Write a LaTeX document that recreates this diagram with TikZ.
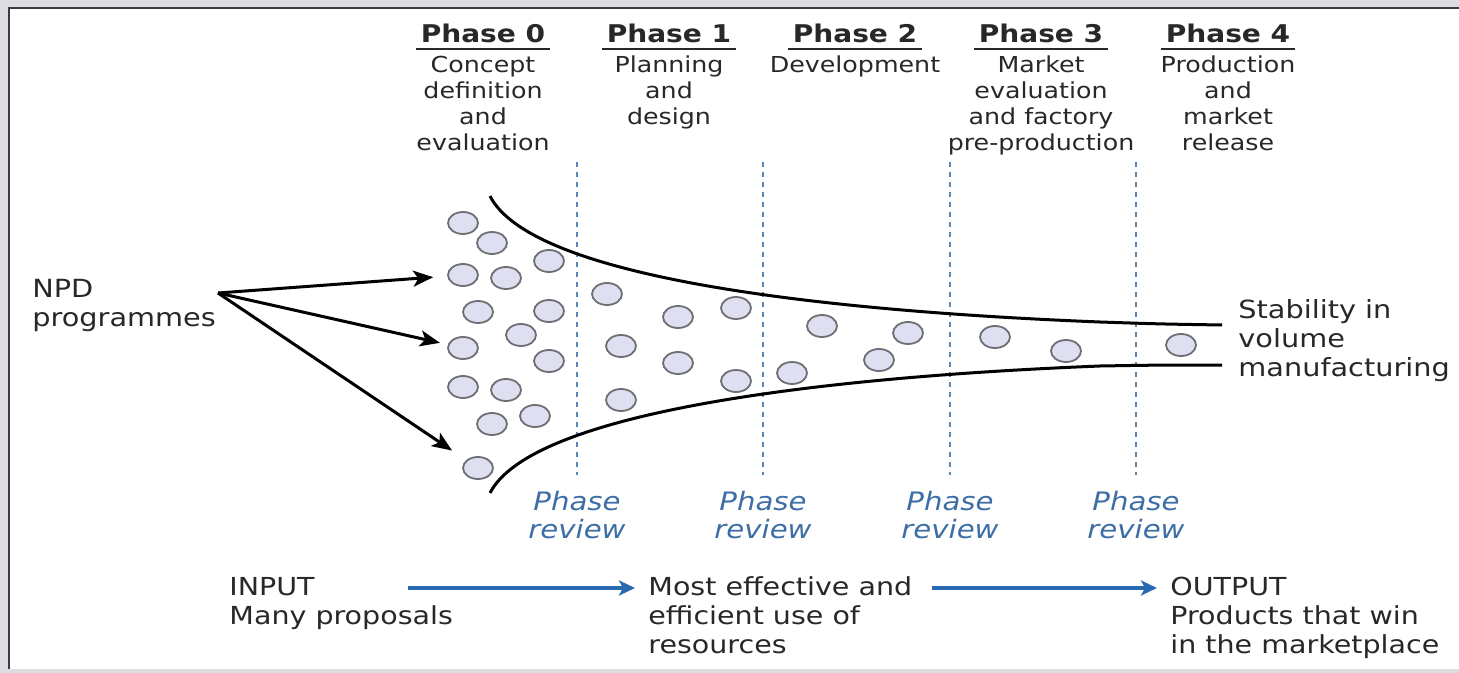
\documentclass[tikz,border=0pt]{standalone}
\usepackage{fontspec}
\setmainfont{DejaVu Sans}[FakeStretch=1.15]
\usetikzlibrary{arrows.meta,shapes.geometric}

\definecolor{panelgray}{RGB}{220,221,224}
\definecolor{framedark}{RGB}{60,60,62}
\definecolor{ink}{RGB}{40,40,40}
\definecolor{reviewblue}{RGB}{61,110,165}
\definecolor{gateblue}{RGB}{90,135,180}
\definecolor{flowblue}{RGB}{40,105,175}
\definecolor{blobfill}{RGB}{222,224,242}
\definecolor{blobline}{RGB}{110,110,115}

\begin{document}
\begin{tikzpicture}[x=0.5pt,y=-0.5pt,
	>={Stealth[length=10pt,width=8pt,inset=2.5pt]},
	every node/.style={text=ink},
	heading/.style={anchor=base,inner sep=0pt,inner xsep=2pt,font=\fontsize{12.2}{13}\selectfont\bfseries},
	headrule/.style={line width=1pt,ink},
	phasetext/.style={anchor=base,align=center,inner sep=0pt,font=\fontsize{11}{13}\selectfont},
	gate/.style={gateblue,line width=1.2pt,dash pattern=on 2.5pt off 2.5pt},
	review/.style={anchor=base,align=center,inner sep=0pt,text=reviewblue,font=\fontsize{12.7}{14}\selectfont\itshape},
	blob/.style={ellipse,draw=blobline,fill=blobfill,line width=0.9pt,minimum width=15pt,minimum height=11pt,inner sep=0pt},
	funnel/.style={line width=1.5pt,black},
	feed/.style={->,line width=1.5pt,black},
	sidetext/.style={anchor=base west,align=left,inner sep=0pt,font=\fontsize{12.5}{14.5}\selectfont},
	flowtext/.style={anchor=base west,align=left,inner sep=0pt,font=\fontsize{12.4}{14.5}\selectfont},
	flow/.style={-{Stealth[length=8pt,width=7.5pt,inset=2pt]},line width=1.8pt,flowblue}]

	\useasboundingbox (0,0) rectangle (1459,673);

	% panel
	\fill[panelgray] (0,0) rectangle (1459,673);
	\fill[white] (9,8) rectangle (1459,669);
	\draw[framedark,line width=1.2pt] (9,669) -- (9,8) -- (1459,8);

	% phases (y of the last text line)
	\foreach \i/\x/\ylast/\desc in {0/483/151/{Concept\\definition\\and\\evaluation},
		1/669/125/{Planning\\and\\design},
		2/855/73/{Development},
		3/1041/151/{Market\\evaluation\\and factory\\pre-production},
		4/1228/151/{Production\\and\\market\\release}} {
		\node[heading] (ph\i) at (\x,43) {Phase \i};
		\draw[headrule] ([yshift=-2.5pt]ph\i.south west) -- ([yshift=-2.5pt]ph\i.south east);
		\node[phasetext] (pd\i) at (\x,\ylast) {\desc};
	}

	% phase reviews
	\foreach \i/\x in {1/577,2/763,3/950,4/1136} {
		\coordinate (gt\i) at (\x,162);
		\coordinate (gb\i) at (\x,475);
		\draw[gate] (gt\i) -- (gb\i);
		\node[review] (rv\i) at (\x,538) {Phase\\review};
	}

	% funnel
	\draw[funnel] (490,196) .. controls (530,275) and (800,310) .. (1100,322) .. controls (1160,324) .. (1222,325);
	\draw[funnel] (490,493) .. controls (530,415) and (800,378) .. (1100,366) .. controls (1160,365) .. (1222,365);

	% projects
	\foreach \n/\x/\y in {1/463/223, 2/492/243, 3/549/261, 4/463/275, 5/506/278,
		6/478/312, 7/549/311, 8/521/335, 9/463/348, 10/549/361,
		11/463/387, 12/506/390, 13/535/416, 14/492/424, 15/478/468,
		16/607/294, 17/621/346, 18/621/400, 19/678/317, 20/678/363,
		21/736/308, 22/736/381, 23/792/373, 24/822/326, 25/879/360,
		26/908/333, 27/995/337, 28/1066/351, 29/1181/345}
		\node[blob] (b\n) at (\x,\y) {};

	% NPD programmes
	\node[sidetext] (npd) at (32,327) {NPD\\programmes};
	\coordinate (hub) at (218,293);
	\draw[feed,shorten >=7pt] (hub) -- (b4);
	\draw[feed,shorten >=4pt] (hub) -- (b9);
	\draw[feed,shorten >=8.5pt] (hub) -- (b15);

	\node[sidetext] (stab) at (1238,376) {Stability in\\volume\\manufacturing};

	% input / output
	\node[flowtext] (inp) at (229,624) {INPUT\\Many proposals};
	\node[flowtext] (mid) at (648,653) {Most effective and\\efficient use of\\resources};
	\node[flowtext] (outp) at (1170,653) {OUTPUT\\Products that win\\in the marketplace};
	\coordinate (fa) at (408,588);
	\coordinate (fb) at (932,588);
	\draw[flow,shorten >=6.5pt] (fa) -- (fa -| mid.west);
	\draw[flow,shorten >=6.5pt] (fb) -- (fb -| outp.west);
\end{tikzpicture}
\end{document}
